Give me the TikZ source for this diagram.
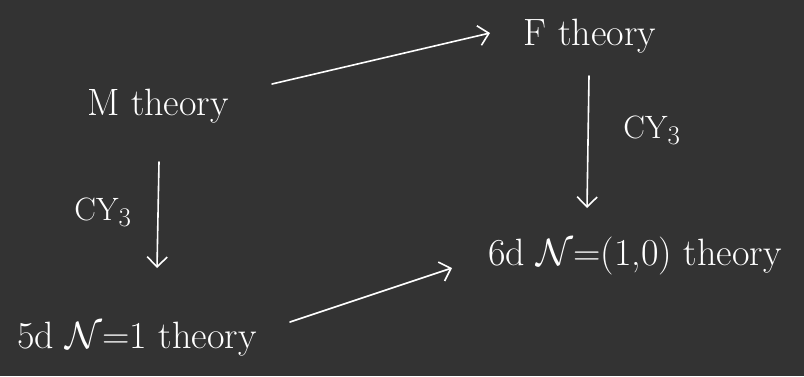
\documentclass[tikz,border=0pt]{standalone}
\usetikzlibrary{arrows.meta}
\definecolor{bgc}{RGB}{51,51,51}
\begin{document}
\begin{tikzpicture}[x=1pt,y=-1pt,
  lbl/.style={text=white,font=\Huge,inner sep=0pt,anchor=base,scale=1.53,transform shape},
  sub/.style={text=white,font=\Huge,inner sep=0pt,scale=1.3,transform shape},
  arr/.style={draw=white,line width=1.6pt,line cap=round,-{Straight Barb[length=10pt,width=20pt,line width=1.6pt]}}]
\fill[bgc] (0,0) rectangle (804,376);
\useasboundingbox (0,0) rectangle (804,376);
\node[lbl] (M) at (158,115) {M theory};
\node[lbl] (F) at (590,45) {F theory};
\node[lbl] (S) at (635,265) {6d $\mathcal{N}$=(1,0) theory};
\node[lbl] (D) at (137,348) {5d $\mathcal{N}$=1 theory};
\coordinate (a1) at (272,84);
\coordinate (a2) at (490,33);
\coordinate (b1) at (589,76);
\coordinate (b2) at (587,208);
\coordinate (c1) at (159,162);
\coordinate (c2) at (157,268);
\coordinate (d1) at (290,322);
\coordinate (d2) at (452,268);
\draw[arr] (a1) -- (a2);
\draw[arr] (b1) -- (b2);
\draw[arr] (c1) -- (c2);
\draw[arr] (d1) -- (d2);
\node[sub] (cyR) at (652,130) {CY$_3$};
\node[sub] (cyL) at (103,212) {CY$_3$};
\end{tikzpicture}
\end{document}
